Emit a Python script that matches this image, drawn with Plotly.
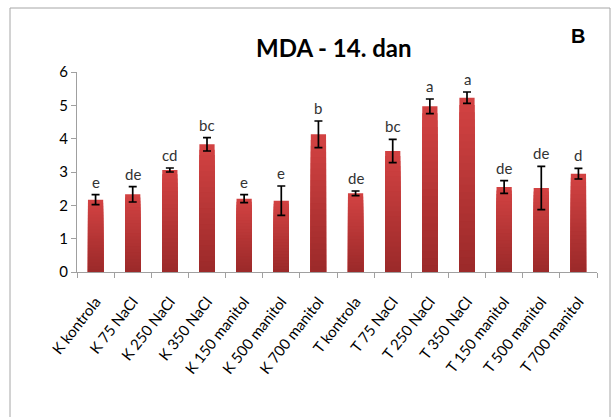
import plotly.graph_objects as go

categories = ["K kontrola", "K 75 NaCl", "K 250 NaCl", "K 350 NaCl", "K 150 manitol",
              "K 500 manitol", "K 700 manitol", "T kontrola", "T 75 NaCl", "T 250 NaCl",
              "T 350 NaCl", "T 150 manitol", "T 500 manitol", "T 700 manitol"]
mda = [2.17, 2.33, 3.06, 3.83, 2.20, 2.14, 4.13, 2.36, 3.63, 4.97, 5.23, 2.55, 2.52, 2.95]
sd = [0.15, 0.23, 0.06, 0.20, 0.12, 0.44, 0.40, 0.07, 0.35, 0.22, 0.17, 0.19, 0.65, 0.16]
letters = ["e", "de", "cd", "bc", "e", "e", "b", "de", "bc", "a", "a", "de", "de", "d"]

W, H = 616, 417
L, R, T, B = 77, 19, 72, 145
pw, ph = W - L - R, H - T - B
BAR_W = 0.41

fig = go.Figure()

# vertical shading of each bar: lighter red at the top, darker towards the base
top_rgb, bot_rgb = (210, 66, 66), (156, 42, 42)
steps = 24
for k in range(steps):
    f = 1 - k / steps
    t = k / (steps - 1)
    col = tuple(round(a + (b - a) * t) for a, b in zip(top_rgb, bot_rgb))
    fig.add_trace(go.Bar(
        x=categories, y=[v * f for v in mda], width=BAR_W,
        marker=dict(color="rgb(%d,%d,%d)" % col, line=dict(width=0)),
        hoverinfo="skip",
    ))

# error bars on top of the shaded bars
fig.add_trace(go.Bar(
    x=categories, y=mda, width=BAR_W,
    marker=dict(color="rgba(0,0,0,0)", line=dict(width=0)),
    error_y=dict(type="data", array=sd, visible=True, color="black", thickness=1.7, width=4),
))

for c, v, e, t in zip(categories, mda, sd, letters):
    fig.add_annotation(x=c, y=v + e, text=t, showarrow=False, yanchor="bottom", yshift=2,
                       font=dict(family="Lato", size=15, color="#333"))

# outer frame around the chart
fig.add_shape(type="rect", xref="paper", yref="paper",
              x0=(10 - L) / pw, x1=(610 - L) / pw, y0=(H - 430 - B) / ph, y1=(H - 8 - B) / ph,
              line=dict(color="#a6a6a6", width=1), fillcolor="rgba(0,0,0,0)", layer="below")

fig.add_annotation(xref="paper", yref="paper", x=(334 - L) / pw, y=(H - 47 - B) / ph,
                   text="<b>MDA - 14. dan</b>", showarrow=False, xanchor="center", yanchor="middle",
                   font=dict(family="Lato", size=24, color="black"))
fig.add_annotation(xref="paper", yref="paper", x=(578 - L) / pw, y=(H - 36 - B) / ph,
                   text="<b>B</b>", showarrow=False, xanchor="center", yanchor="middle",
                   font=dict(family="Liberation Sans", size=20, color="black"))

fig.update_layout(
    width=W, height=H,
    margin=dict(l=L, r=R, t=T, b=B),
    paper_bgcolor="white", plot_bgcolor="white",
    showlegend=False,
    barmode="overlay",
    xaxis=dict(
        tickangle=-52, tickson="boundaries", ticks="outside", ticklen=5, tickcolor="#a0a0a0",
        showline=True, linecolor="#a0a0a0", linewidth=1, showgrid=False,
        tickfont=dict(family="Lato", size=15, color="black"),
        ticklabelstandoff=14,
        range=[-0.5, len(categories) - 0.5],
    ),
    yaxis=dict(
        range=[0, 6], dtick=1, ticks="outside", ticklen=5, tickcolor="#a0a0a0",
        showline=True, linecolor="#a0a0a0", linewidth=1, showgrid=False, zeroline=False,
        tickfont=dict(family="Lato", size=15, color="black"),
    ),
)

fig.write_html("out.html")
